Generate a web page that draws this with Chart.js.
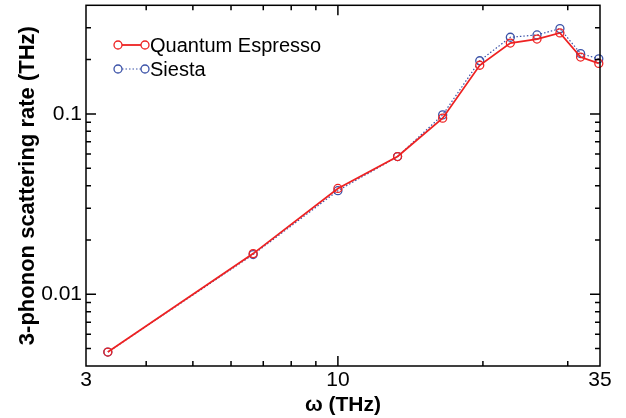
<!DOCTYPE html>
<html>
<head>
<meta charset="utf-8">
<script src="https://cdn.jsdelivr.net/npm/chart.js@4/dist/chart.umd.min.js"></script>
<style>
  html, body { margin: 0; padding: 0; background: #fff; }
  #wrap { width: 626px; height: 418px; }
</style>
</head>
<body>
<div id="wrap"><canvas id="chart1"></canvas></div>
<script>
// frequencies (THz) and scattering rates (THz)
var omega = [3.33, 6.67, 10.0, 13.3, 16.5, 19.7, 22.8, 25.9, 28.9, 31.9, 34.8];
var qeRate = [0.00478, 0.0168, 0.0386, 0.0580, 0.0947, 0.186, 0.247, 0.260, 0.281, 0.2065, 0.1905];
var siestaRate = [0.00478, 0.0166, 0.0375, 0.0580, 0.0987, 0.197, 0.266, 0.274, 0.297, 0.216, 0.202];

// labelled ticks and tick marks
var xLabels = [3, 10, 35];
var xMajor = [10];
var xMinor = [4, 5, 6, 7, 8, 9, 20, 30];
var yLabels = [0.01, 0.1];
var yMajor = [0.01, 0.1];
var yMinor = [0.005, 0.006, 0.007, 0.008, 0.009, 0.02, 0.03, 0.04, 0.05, 0.06, 0.07, 0.08, 0.09, 0.2, 0.3];

var red = '#ee2222';
var blue = '#3b52a8';
var font = '"Liberation Sans", Arial, Helvetica, sans-serif';

function pts(xs, ys) {
  return xs.map(function (x, i) { return { x: x, y: ys[i] }; });
}

// frame, inward tick marks on all sides, and the legend
var framePlugin = {
  id: 'frame',
  afterDraw: function (chart) {
    var ctx = chart.ctx, a = chart.chartArea;
    var xs = chart.scales.x, ys = chart.scales.y;
    ctx.save();
    ctx.strokeStyle = '#000';
    ctx.lineWidth = 1.5;
    ctx.beginPath();
    function xt(v, len) {
      var p = xs.getPixelForValue(v);
      ctx.moveTo(p, a.bottom); ctx.lineTo(p, a.bottom - len);
      ctx.moveTo(p, a.top); ctx.lineTo(p, a.top + len);
    }
    function yt(v, len) {
      var p = ys.getPixelForValue(v);
      ctx.moveTo(a.left, p); ctx.lineTo(a.left + len, p);
      ctx.moveTo(a.right, p); ctx.lineTo(a.right - len, p);
    }
    xMajor.forEach(function (v) { xt(v, 10); });
    xMinor.forEach(function (v) { xt(v, 5); });
    yMajor.forEach(function (v) { yt(v, 10); });
    yMinor.forEach(function (v) { yt(v, 5); });
    ctx.stroke();
    ctx.strokeRect(a.left, a.top, a.right - a.left, a.bottom - a.top);

    // legend: marker - line - marker, then label
    var items = chart.data.datasets;
    var lx0 = 118, lx1 = 145, ly = 45;
    items.forEach(function (ds, i) {
      var y = ly + i * 24;
      ctx.strokeStyle = ds.borderColor;
      ctx.lineWidth = ds.borderWidth;
      ctx.setLineDash(ds.borderDash || []);
      ctx.beginPath();
      ctx.moveTo(lx0 + 4, y); ctx.lineTo(lx1 - 4, y);
      ctx.stroke();
      ctx.setLineDash([]);
      ctx.lineWidth = 1.3;
      [lx0, lx1].forEach(function (cx) {
        ctx.beginPath();
        ctx.arc(cx, y, 4, 0, Math.PI * 2);
        ctx.stroke();
      });
      ctx.fillStyle = '#000';
      ctx.font = '20px ' + font;
      ctx.textBaseline = 'middle';
      ctx.fillText(ds.label, 150, y + 1);
    });
    ctx.restore();
  }
};

new Chart(document.getElementById('chart1'), {
  type: 'line',
  data: {
    datasets: [{
      label: 'Quantum Espresso',
      data: pts(omega, qeRate),
      borderColor: red,
      borderWidth: 1.8,
      pointStyle: 'circle',
      pointRadius: 4,
      pointBorderWidth: 1.3,
      pointBorderColor: red,
      pointBackgroundColor: 'rgba(0,0,0,0)',
      fill: false,
      tension: 0
    }, {
      label: 'Siesta',
      data: pts(omega, siestaRate),
      borderColor: blue,
      borderWidth: 1.2,
      borderDash: [1.5, 2],
      pointStyle: 'circle',
      pointRadius: 4,
      pointBorderWidth: 1.3,
      pointBorderColor: blue,
      pointBackgroundColor: 'rgba(0,0,0,0)',
      fill: false,
      tension: 0
    }]
  },
  options: {
    responsive: true,
    maintainAspectRatio: false,
    animation: false,
    clip: false,
    layout: { padding: { top: 5, right: 26, left: 0, bottom: 0 } },
    plugins: {
      legend: { display: false },
      tooltip: { enabled: false }
    },
    scales: {
      x: {
        type: 'logarithmic',
        min: 3,
        max: 35,
        afterBuildTicks: function (s) { s.ticks = xLabels.map(function (v) { return { value: v }; }); },
        afterFit: function (s) { s.height = 52; s.paddingLeft = 0; s.paddingRight = 0; },
        grid: { display: false, drawTicks: false },
        border: { display: false },
        ticks: {
          color: '#000',
          padding: 2,
          maxRotation: 0,
          autoSkip: false,
          font: { family: font, size: 21 },
          callback: function (v) { return String(v); }
        },
        title: {
          display: true,
          text: 'ω (THz)',
          color: '#000',
          padding: { top: 0, bottom: 0 },
          font: { family: font, size: 21, weight: 'bold' }
        }
      },
      y: {
        type: 'logarithmic',
        min: 0.004,
        max: 0.4,
        afterBuildTicks: function (s) { s.ticks = yLabels.map(function (v) { return { value: v }; }); },
        afterFit: function (s) { s.width = 86; s.paddingTop = 0; s.paddingBottom = 0; },
        grid: { display: false, drawTicks: false },
        border: { display: false },
        ticks: {
          color: '#000',
          padding: 4,
          autoSkip: false,
          font: { family: font, size: 21 },
          callback: function (v) { return String(v); }
        },
        title: {
          display: true,
          text: '3-phonon scattering rate (THz)',
          color: '#000',
          padding: { top: 15, bottom: 0 },
          font: { family: font, size: 22, weight: 'bold' }
        }
      }
    }
  },
  plugins: [framePlugin]
});
</script>
</body>
</html>
